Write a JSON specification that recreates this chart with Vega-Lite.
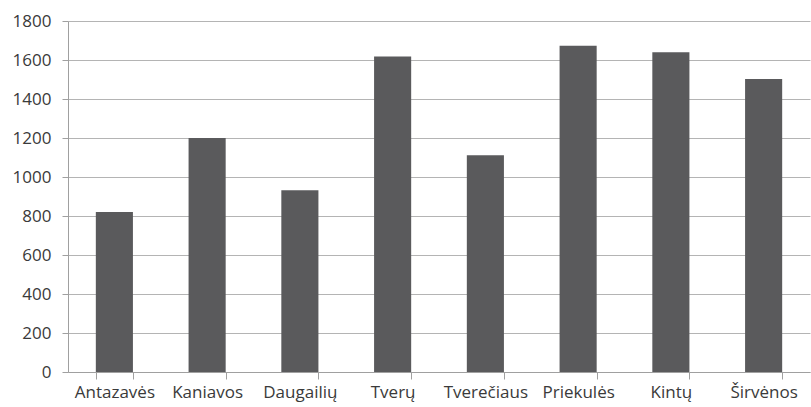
{
  "$schema": "https://vega.github.io/schema/vega-lite/v6.json",
  "autosize": "none",
  "width": 742,
  "height": 351,
  "padding": {"left": 68, "top": 21, "right": 1, "bottom": 35},
  "background": "white",
  "data": {"values": [
    {"place": "Antazavės", "value": 820},
    {"place": "Kaniavos", "value": 1200},
    {"place": "Daugailių", "value": 932},
    {"place": "Tverų", "value": 1618},
    {"place": "Tverečiaus", "value": 1112},
    {"place": "Priekulės", "value": 1673},
    {"place": "Kintų", "value": 1640},
    {"place": "Širvėnos", "value": 1502}
  ]},
  "mark": {"type": "bar", "color": "#5a5a5c"},
  "encoding": {
    "x": {
      "field": "place", "type": "nominal", "sort": null,
      "scale": {"paddingInner": 0.6, "paddingOuter": 0.3},
      "axis": {
        "title": null, "labelAngle": 0, "tickBand": "extent",
        "tickSize": 7, "tickColor": "#a0a0a0", "domainColor": "#a0a0a0",
        "labelFont": "Open Sans", "labelFontSize": 17, "labelColor": "#3a3a3a",
        "labelPadding": 5
      }
    },
    "y": {
      "field": "value", "type": "quantitative",
      "scale": {"domain": [0, 1800], "nice": false},
      "axis": {
        "title": null, "values": [0, 200, 400, 600, 800, 1000, 1200, 1400, 1600, 1800],
        "format": "d",
        "tickSize": 6, "tickColor": "#a0a0a0", "domainColor": "#a0a0a0",
        "gridColor": "#b4b4b4", "gridOpacity": 1,
        "labelFont": "Open Sans", "labelFontSize": 17, "labelColor": "#3a3a3a",
        "labelPadding": 11
      }
    }
  },
  "config": {"view": {"stroke": null}}
}
